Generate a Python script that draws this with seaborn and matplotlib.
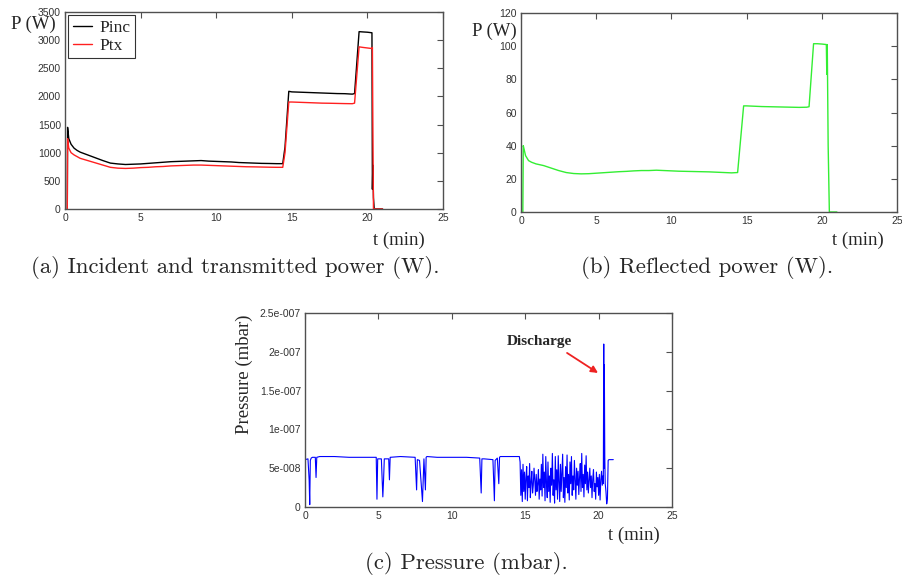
import numpy as np
import pandas as pd
import seaborn as sns
import matplotlib.pyplot as plt

# ---- data ----
# (a) incident / transmitted power (W)
t_power = [0.15, 0.17, 0.25, 0.4, 0.6, 0.8, 1.0, 1.5, 2.0, 2.5, 3.0, 3.5, 4.0, 4.5, 5.0,
           5.5, 6.0, 6.5, 7.0, 7.5, 8.0, 8.5, 9.0, 9.5, 10.0, 10.5, 11.0, 11.5, 12.0, 12.5,
           13.0, 13.5, 14.0, 14.4, 14.55, 14.8, 15.0, 15.5, 16.0, 16.5, 17.0, 17.5, 18.0,
           18.5, 19.0, 19.15, 19.45, 19.7, 20.0, 20.3, 20.33, 20.36, 20.4, 20.45, 20.5, 21.0]
p_inc = [0, 1450, 1250, 1150, 1080, 1040, 1010, 960, 910, 860, 815, 800, 790, 795, 800,
         810, 820, 830, 840, 845, 850, 855, 860, 850, 845, 840, 835, 825, 820, 815,
         810, 808, 805, 805, 1100, 2090, 2080, 2075, 2070, 2065, 2060, 2055, 2050,
         2048, 2040, 2050, 3150, 3145, 3140, 3130, 350, 780, 200, 0, 0, 0]
p_tx = [0, 1250, 1080, 1000, 960, 930, 900, 860, 820, 780, 740, 725, 720, 725, 735,
        740, 750, 755, 765, 770, 775, 780, 780, 775, 770, 765, 760, 755, 750, 748,
        745, 742, 740, 740, 1000, 1900, 1900, 1895, 1890, 1885, 1880, 1878, 1875,
        1872, 1870, 1880, 2880, 2870, 2860, 2850, 2870, 1500, 0, 0, 0, 0]

# (b) reflected power (W)
t_ref = [0.12, 0.15, 0.2, 0.3, 0.5, 0.7, 1.0, 1.5, 2.0, 2.5, 3.0, 3.5, 4.0, 4.5, 5.0,
         5.5, 6.0, 6.5, 7.0, 7.5, 8.0, 8.5, 9.0, 9.5, 10.0, 10.5, 11.0, 11.5, 12.0, 12.5,
         13.0, 13.5, 14.0, 14.4, 14.8, 15.0, 15.5, 16.0, 16.5, 17.0, 17.5, 18.0, 18.5,
         19.0, 19.15, 19.45, 19.7, 20.0, 20.3, 20.33, 20.36, 20.42, 20.5, 21.0]
p_ref = [0, 40, 38, 34, 31, 30, 29, 28, 26.5, 25, 23.8, 23.2, 23, 23.1, 23.4,
         23.7, 24, 24.3, 24.5, 24.8, 25, 25, 25.2, 25, 24.8, 24.6, 24.5, 24.4, 24.3, 24.2,
         24, 23.8, 23.6, 23.8, 64, 64, 63.8, 63.6, 63.5, 63.4, 63.3, 63.2, 63.1,
         63.2, 63.5, 101.5, 101.5, 101.3, 101, 83, 101, 40, 0, 0]

# (c) pressure, in units of 1e-8 mbar
t_press_calm = [0.0, 0.2, 0.28, 0.32, 0.36, 0.42, 0.5, 0.7, 0.75, 0.8, 1.0, 2.0, 3.0, 4.0,
                4.85, 4.9, 4.95, 5.2, 5.3, 5.35, 5.4, 5.7, 5.75, 5.8, 6.5, 7.5, 7.6, 7.65,
                7.8, 8.0, 8.05, 8.1, 8.2, 8.25, 8.3, 9.0, 10.0, 11.0, 11.9, 12.0, 12.05,
                12.2, 12.8, 12.9, 12.95, 13.1, 13.2, 13.25, 13.3, 14.0, 14.6]
press_calm = [6.1, 6.2, 3.5, 0.3, 6.0, 6.3, 6.4, 6.4, 3.8, 6.4, 6.5, 6.5, 6.4, 6.4,
              6.4, 1.0, 6.2, 6.2, 1.3, 3.5, 6.2, 6.2, 3.5, 6.4, 6.5, 6.4, 2.2, 6.1,
              6.0, 0.7, 3.5, 6.2, 2.2, 6.4, 6.5, 6.4, 6.4, 6.4, 6.3, 1.8, 6.2,
              6.2, 6.1, 0.8, 6.0, 6.3, 3.0, 6.4, 6.5, 6.5, 6.5]
press_noisy = [5.8, 1.5, 4.8, 0.7, 5.5, 2.0, 4.5, 1.0, 3.8, 5.2, 0.8, 4.0, 2.5, 5.6, 1.2,
               3.2, 4.6, 1.8, 2.8, 5.0, 3.5, 1.5, 4.2, 2.0, 3.0, 4.8, 1.0, 3.6, 2.2, 5.5,
               1.4, 6.8, 2.5, 4.5, 0.8, 6.5, 3.0, 1.2, 5.8, 2.0, 4.0, 0.6, 5.0, 2.8, 6.9,
               1.5, 3.5, 0.5, 6.5, 2.2, 4.8, 1.0, 6.6, 3.2, 0.7, 5.5, 2.0, 4.5, 6.8, 1.2,
               3.8, 0.6, 5.2, 2.5, 6.7, 1.8, 4.2, 0.9, 5.8, 3.0, 6.5, 1.5, 4.0, 2.2, 6.0,
               3.5, 1.0, 5.0, 2.8, 4.6, 1.6, 3.8, 5.6, 2.0, 6.9, 2.5, 4.2, 1.3, 5.4, 3.0,
               6.6, 2.2, 4.5, 1.8, 3.5, 5.0, 2.5, 4.0, 1.2, 3.6, 4.8, 2.0, 3.0, 1.0, 4.5,
               2.6, 3.8, 1.5, 4.2, 0.9, 3.5, 4.6, 2.8, 4.0]
t_press_end = [20.32, 20.35, 20.37, 20.39, 20.42, 20.45, 20.5, 20.55, 20.6, 20.65, 20.7, 21.0]
press_end = [3.0, 21.0, 5.0, 18.3, 6.5, 3.0, 2.0, 0.4, 1.0, 6.0, 6.1, 6.1]

press_ticks = [0, 0.5e-7, 1e-7, 1.5e-7, 2e-7, 2.5e-7]
press_ticklabels = ['0', '5e-008', '1e-007', '1.5e-007', '2e-007', '2.5e-007']

captions = ['(a) Incident and transmitted power (W).',
            '(b) Reflected power (W).',
            '(c) Pressure (mbar).']

# ---- build frames ----
df_a = pd.concat([
    pd.DataFrame({'t': t_power, 'P': p_inc, 'series': 'Pinc'}),
    pd.DataFrame({'t': t_power, 'P': p_tx, 'series': 'Ptx'}),
])
df_b = pd.DataFrame({'t': t_ref, 'P': p_ref})
t_noisy = np.linspace(14.65, 20.3, len(press_noisy))
df_c = pd.DataFrame({
    't': list(t_press_calm) + list(t_noisy) + t_press_end,
    'p': np.array(press_calm + press_noisy + press_end) * 1e-8,
})

sns.set_style('white')
plt.rcParams['font.family'] = ['Liberation Sans', 'DejaVu Sans']

fig = plt.figure(figsize=(9.03, 5.8), dpi=100)
ax_a = fig.add_axes([0.072, 0.6397, 0.4186, 0.3397])
ax_b = fig.add_axes([0.577, 0.6345, 0.4164, 0.343])
ax_c = fig.add_axes([0.3378, 0.1259, 0.4064, 0.3345])

serif = 'Liberation Serif'
frame = '#505050'

sns.lineplot(data=df_a, x='t', y='P', hue='series', palette={'Pinc': 'black', 'Ptx': '#ff2020'},
             estimator=None, sort=False, lw=1.0, ax=ax_a)
sns.lineplot(data=df_b, x='t', y='P', color='#33ee33', estimator=None, sort=False, lw=1.0, ax=ax_b)
sns.lineplot(data=df_c, x='t', y='p', color='#0000ff', estimator=None, sort=False, lw=0.8, ax=ax_c)

for ax in (ax_a, ax_b, ax_c):
    ax.set_xlim(0, 25)
    ax.set_xticks([0, 5, 10, 15, 20, 25])
    ax.tick_params(direction='in', length=4, width=0.8, colors=frame, labelsize=7.5,
                   top=True, right=True, labelcolor='#333333', pad=3)
    for s in ax.spines.values():
        s.set_color(frame)
        s.set_linewidth(1.0)
    ax.set_xlabel('t (min)', fontfamily=serif, fontsize=13.5)

ax_a.set_ylim(0, 3500)
ax_a.set_yticks(range(0, 3501, 500))
ax_a.set_ylabel('P (W)', rotation=0, fontfamily=serif, fontsize=13.5, va='center')
ax_a.yaxis.set_label_coords(-0.085, 0.935)
ax_a.xaxis.set_label_coords(0.884, -0.117)
leg = ax_a.legend(loc='upper left', frameon=True, fancybox=False, prop={'family': serif, 'size': 12.5},
                  borderaxespad=0.2, handlelength=1.1, handletextpad=0.45, borderpad=0.25,
                  labelspacing=0.1)
leg.get_frame().set_edgecolor('black')
leg.get_frame().set_linewidth(0.8)
leg.set_title(None)

ax_b.set_ylim(0, 120)
ax_b.set_yticks(range(0, 121, 20))
ax_b.set_ylabel('P (W)', rotation=0, fontfamily=serif, fontsize=13.5, va='center')
ax_b.yaxis.set_label_coords(-0.072, 0.91)
ax_b.xaxis.set_label_coords(0.896, -0.10)

ax_c.set_ylim(0, 2.5e-7)
ax_c.set_yticks(press_ticks)
ax_c.set_yticklabels(press_ticklabels)
ax_c.set_ylabel('Pressure (mbar)', fontfamily=serif, fontsize=13.5)
ax_c.yaxis.set_label_coords(-0.142, 0.686)
ax_c.xaxis.set_label_coords(0.896, -0.103)
ax_c.text(16.0, 2.13e-7, 'Discharge', ha='center', va='center', fontfamily=serif,
          fontweight='bold', fontsize=11)
ax_c.annotate('', xy=(19.96, 1.727e-7), xytext=(17.85, 1.985e-7),
              arrowprops=dict(arrowstyle='-|>', color='#ee2222', lw=1.3,
                              shrinkA=0, shrinkB=0, mutation_scale=10))

fig.text(0.26, 0.538, captions[0], ha='center', va='center', fontfamily='cmr10', fontsize=16.4)
fig.text(0.783, 0.538, captions[1], ha='center', va='center', fontfamily='cmr10', fontsize=16.4)
fig.text(0.517, 0.029, captions[2], ha='center', va='center', fontfamily='cmr10', fontsize=16.4)

fig.savefig('out.png', dpi=100, facecolor='white')
